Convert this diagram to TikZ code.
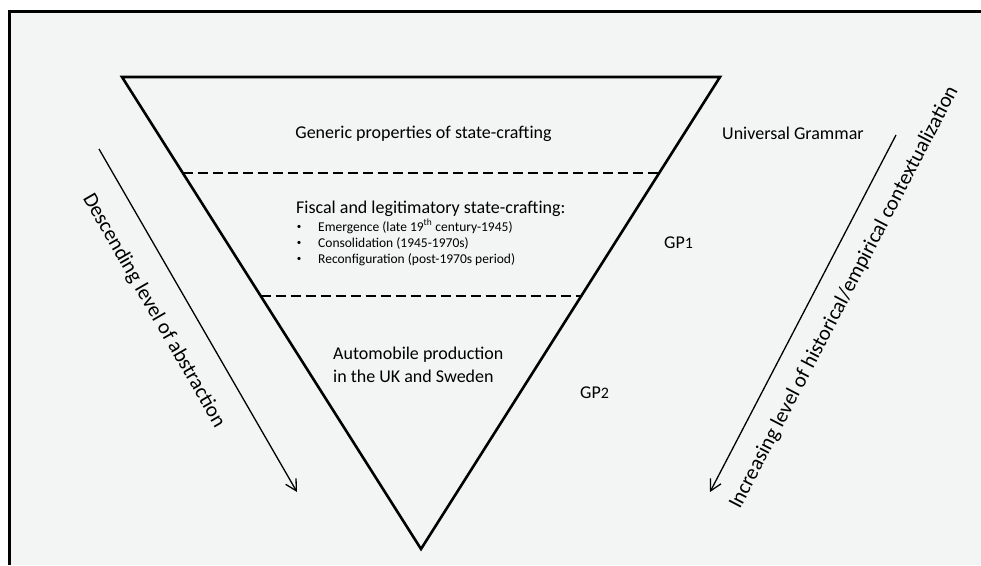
\documentclass[tikz,border=0pt]{standalone}
\usepackage{fontspec}
\setmainfont{Carlito}
\usetikzlibrary{arrows.meta,positioning,calc}
\definecolor{panel}{HTML}{F3F4F4}

\begin{document}
\begin{tikzpicture}[x=1pt,y=-1pt,
    >={Straight Barb[length=11pt,width=12pt]},
    big/.style={inner sep=0pt,font=\fontsize{18}{21}\selectfont},
    small/.style={inner sep=0pt,font=\fontsize{13.5}{16}\selectfont},
    dot/.style={inner sep=0pt,font=\fontsize{9}{10}\selectfont},
    side/.style={inner sep=0pt,font=\fontsize{21}{25}\selectfont}]
    \useasboundingbox (0,0) rectangle (981,565);
    \fill[panel] (9.5,11.5) rectangle (981,565);
    \draw[line width=3pt] (9.5,565) -- (9.5,11.5) -- (981,11.5);
    % the funnel
    \coordinate (TL) at (122,77);
    \coordinate (TR) at (720,77);
    \coordinate (B) at (421,549);
    \draw[line width=2.6pt] (TL) -- (TR) -- (B) -- cycle;
    \draw[line width=2pt,dash pattern=on 10pt off 5pt] ($(TL)!0.203!(B)$) -- ($(TR)!0.203!(B)$);
    \draw[line width=2pt,dash pattern=on 10pt off 5pt] ($(TL)!0.464!(B)$) -- ($(TR)!0.464!(B)$);
    % levels
    \node[big,anchor=base] (generic) at (423.5,138) {Generic properties of state-crafting};
    \node[big,anchor=base west] (fiscal) at (296,213) {Fiscal and legitimatory state-crafting:};
    \node[small,anchor=base west] (em) at (318,231) {Emergence (late 19\textsuperscript{th} century-1945)};
    \node[small,anchor=base west] (con) at (318,247) {Consolidation (1945-1970s)};
    \node[small,anchor=base west] (rec) at (318,263) {Reconfiguration (post-1970s period)};
    \node[dot,anchor=base] (b1) at (299,229) {\textbullet};
    \node[dot,anchor=base] (b2) at (299,245) {\textbullet};
    \node[dot,anchor=base] (b3) at (299,261) {\textbullet};
    \node[big,anchor=base west] (auto) at (333,359) {Automobile production};
    \node[big,anchor=base west] (uk) at ([yshift=-23pt]auto.base west) {in the UK and Sweden};
    \node[big,anchor=base west] (ug) at (722,139) {Universal Grammar};
    \node[big,anchor=base west] (gp1) at (664,248) {GP{\fontsize{16}{18}\selectfont 1}};
    \node[big,anchor=base west] (gp2) at (580,398) {GP{\fontsize{16}{18}\selectfont 2}};
    % side arrows
    \coordinate (descA) at (99,149);
    \coordinate (descB) at (297,492);
    \draw[->,line width=1.3pt] (descA) -- (descB);
    \node[side,anchor=base,rotate=-60] (desc) at (149,313.5) {Descending level of abstraction};
    \coordinate (incA) at (896,135);
    \coordinate (incB) at (710,492);
    \draw[->,line width=1.3pt] (incA) -- (incB);
    \node[side,anchor=base,rotate=62.5] (inc) at (849,300) {Increasing level of historical/empirical contextualization};
\end{tikzpicture}
\end{document}
